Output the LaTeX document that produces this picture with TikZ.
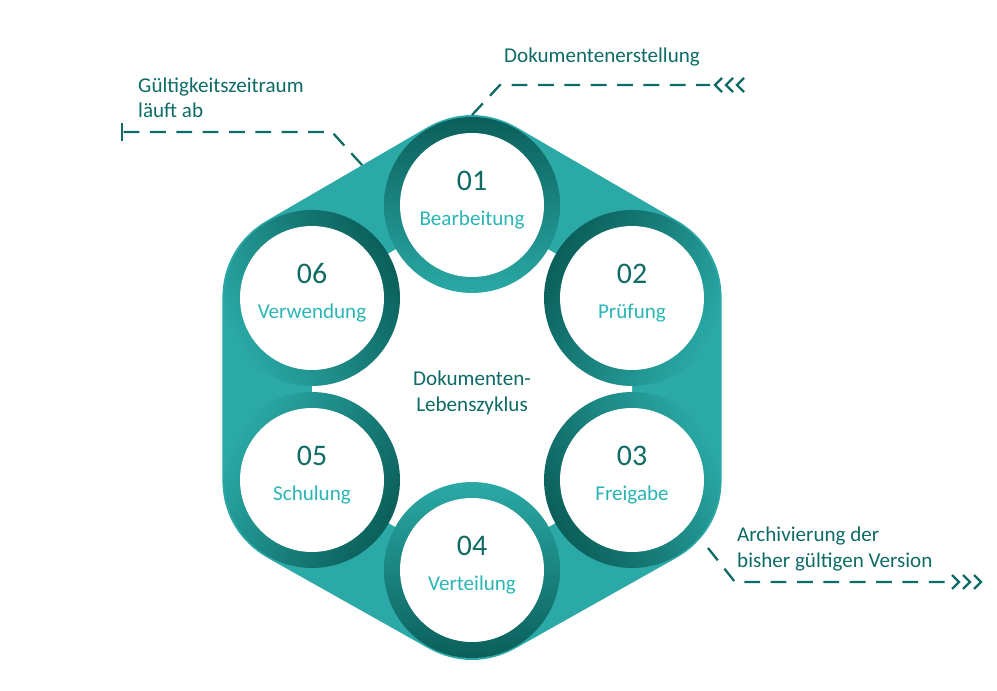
\documentclass[tikz,border=0pt]{standalone}
\usepackage{fontspec}
\setmainfont{Carlito}
\definecolor{dk}{HTML}{0E6B66}
\definecolor{hl}{HTML}{2AA9A6}
\definecolor{lt}{HTML}{36C0C0}
\definecolor{ring}{HTML}{0B5F5A}
\definecolor{lab}{HTML}{2BB5B5}
\begin{document}
\begin{tikzpicture}[x=0.02cm,y=-0.02cm,
  ringc/.style={shading=axis,top color=ring,bottom color=hl},
  inner/.style={circle,fill=white,minimum size=2.88cm,inner sep=0pt},
  num/.style={text=dk,font=\fontsize{17}{20}\selectfont},
  lbl/.style={text=lab,font=\fontsize{12}{14}\selectfont},
  note/.style={text=dk,font=\fontsize{12}{14.5}\selectfont,align=left},
  dl/.style={draw=dk,dashed,dash pattern=on 9pt off 6pt,line width=1.3pt},
  chev/.style={draw=dk,line width=1.3pt}]
\useasboundingbox (0,0) rectangle (997,690);
% hull
\draw[hl,line width=102pt,line join=round]
 (472,205)--(632,298)--(632,480)--(472,570)--(312,480)--(312,298)--cycle;
\fill[white] (472,205)--(632,298)--(632,480)--(472,570)--(312,480)--(312,298)--cycle;
% rings
\foreach \n/\x/\y/\a in {c1/472/205/0,c2/632/298/60,c3/632/480/120,c4/472/570/180,c5/312/480/240,c6/312/298/300}{
  \shade[ringc,shading angle=\a] (\x,\y) circle (1.76cm);
  \node[inner] (\n) at (\x,\y) {};
}
\foreach \n/\t/\l in {c1/01/Bearbeitung,c2/02/Prüfung,c3/03/Freigabe,c4/04/Verteilung,c5/05/Schulung,c6/06/Verwendung}{
  \node[num] at ([yshift=0.48cm]\n.center) {\t};
  \node[lbl] at ([yshift=-0.3cm]\n.center) {\l};
}
\node[note,align=center] (mid) at (472,393) {Dokumenten-\\Lebenszyklus};
% annotations
\coordinate (a1) at (472,115); \coordinate (a2) at (500,85); \coordinate (a3) at (710,85);
\draw[dl] (a1)--(a2)--(a3);
\foreach \dx in {0,11,22}{\draw[chev] (722+\dx,78)--(715+\dx,85)--(722+\dx,92);}
\node[note,anchor=south west] (t1) at (498,72) {Dokumentenerstellung};
\coordinate (b1) at (362,165); \coordinate (b2) at (332,132); \coordinate (b3) at (122,132);
\draw[dl] (b1)--(b2)--(b3);
\draw[chev] (122,123)--(122,141);
\node[note,anchor=south west] (t2) at (132,124) {Gültigkeitszeitraum\\läuft ab};
\coordinate (d1) at (708,548); \coordinate (d2) at (735,582); \coordinate (d3) at (948,582);
\draw[dl] (d1)--(d2)--(d3);
\foreach \dx in {0,11,22}{\draw[chev] (952+\dx,575)--(959+\dx,582)--(952+\dx,589);}
\node[note,anchor=south west] (t3) at (731,577) {Archivierung der\\bisher gültigen Version};
\end{tikzpicture}
\end{document}
